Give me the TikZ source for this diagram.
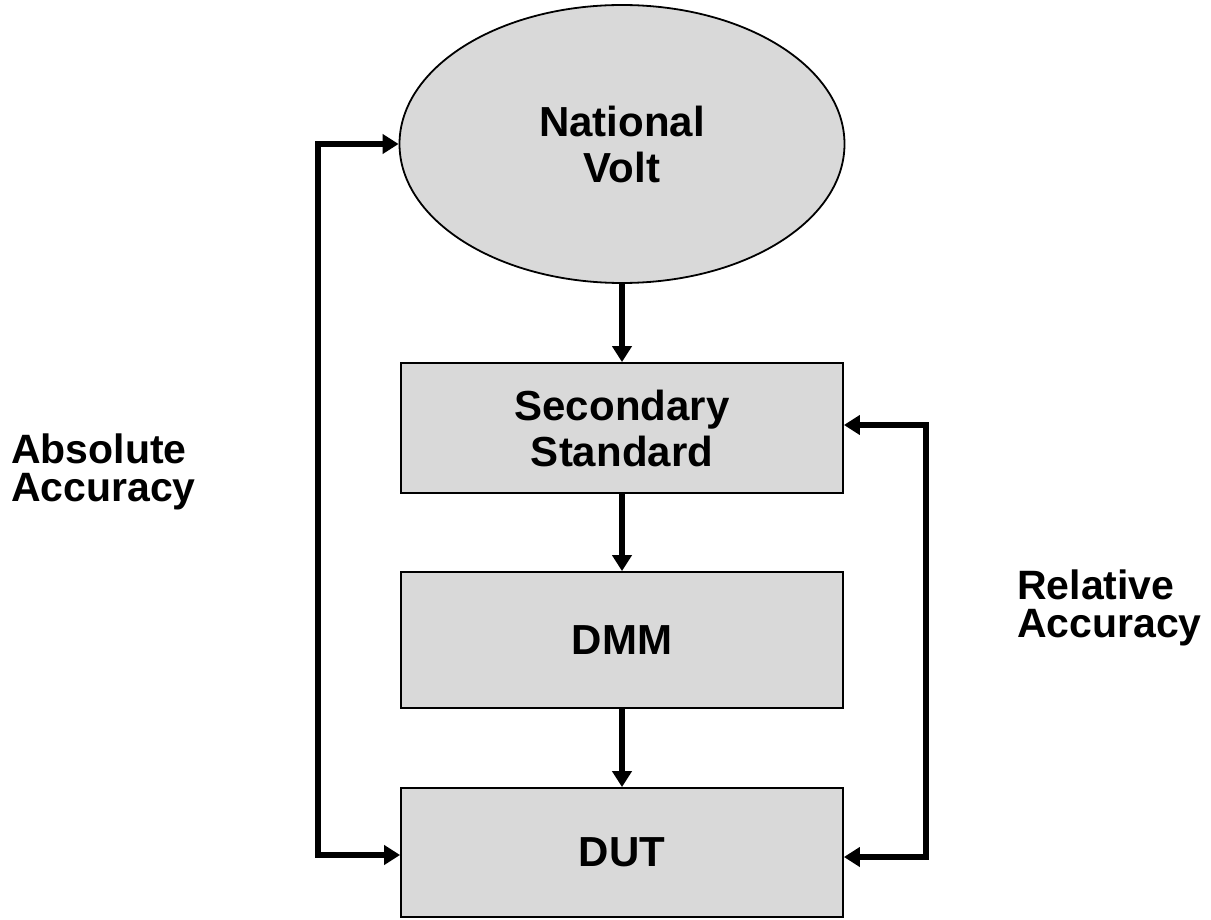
\documentclass[tikz,border=0pt]{standalone}
\usepackage{fontspec}
\setmainfont{Liberation Sans}
\usetikzlibrary{shapes.geometric,arrows.meta}
\definecolor{boxgray}{HTML}{D9D9D9}
\begin{document}
\begin{tikzpicture}[x=1pt,y=-1pt,
  every node/.style={font=\bfseries\fontsize{42}{46}\selectfont},
  blk/.style={draw=black,line width=1.8pt,fill=boxgray,minimum width=442pt,inner sep=0pt,align=center},
  oval/.style={ellipse,draw=black,line width=1.8pt,fill=boxgray,minimum width=445pt,minimum height=278pt,inner sep=0pt,align=center},
  tip/.style={},
  arr/.style={line width=5.6pt,-{Triangle[length=16pt,width=19pt]}},
  darr/.style={line width=5.6pt,{Triangle[length=16pt,width=19pt]}-{Triangle[length=16pt,width=19pt]},line join=miter},
  lbl/.style={align=left,anchor=west,inner sep=0pt,font=\bfseries\fontsize{41}{38}\selectfont}]
\useasboundingbox (0,0) rectangle (1211,920);
\node[oval] (nv) at (622,144) {National\\Volt};
\node[blk,minimum height=130pt] (ss) at (622,428) {Secondary\\Standard};
\node[blk,minimum height=136pt] (dmm) at (622,640) {DMM};
\node[blk,minimum height=129pt] (dut) at (622,852.5) {DUT};
\node[lbl] (abs) at (11,472) {Absolute\\Accuracy};
\node[lbl] (rel) at (1017,608) {Relative\\Accuracy};
\draw[arr] (nv.south) -- (ss.north);
\draw[arr] (ss.south) -- (dmm.north);
\draw[arr] (dmm.south) -- (dut.north);
\coordinate (l1) at (318,144);
\coordinate (l2) at (318,855);
\coordinate (r1) at (926,425);
\coordinate (r2) at (926,857);
\draw[darr] (nv.west) -- (l1) -- (l2) -- (l2 -| dut.west);
\draw[darr] (r1 -| ss.east) -- (r1) -- (r2) -- (r2 -| dut.east);
\end{tikzpicture}
\end{document}
